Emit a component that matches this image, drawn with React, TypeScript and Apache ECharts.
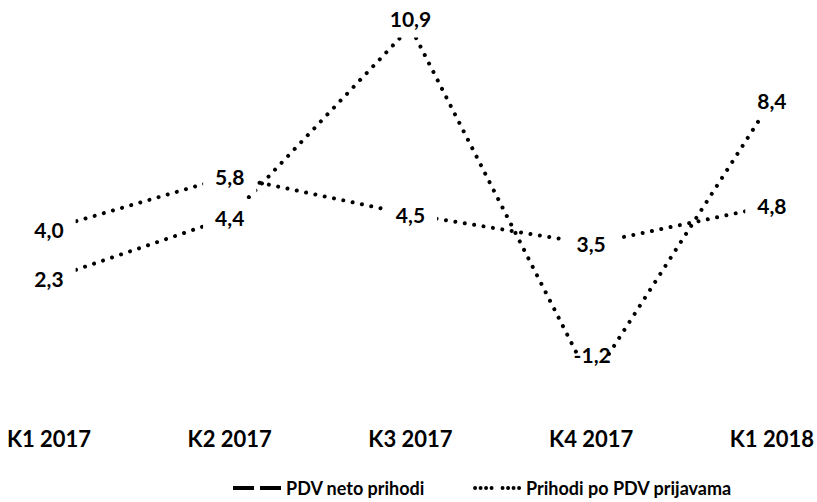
import React, { useEffect, useRef } from 'react';
import * as echarts from 'echarts';

const categories = ['K1 2017', 'K2 2017', 'K3 2017', 'K4 2017', 'K1 2018'];
const seriesNames = ['PDV neto prihodi', 'Prihodi po PDV prijavama'];
const pdvNetoPrihodi = [2.3, 4.4, 10.9, -1.2, 8.4];
const prihodiPoPrijavama = [4.0, 5.8, 4.5, 3.5, 4.8];

const FONT = 'Lato';

const fmt = (p: any) => {
  const v = Array.isArray(p.value) ? p.value[1] : p.value;
  return Number(v).toFixed(1).replace('.', ',');
};

const dotPath = (x: number) => `M${x},2a2,2 0 1,0 4,0a2,2 0 1,0 -4,0Z`;
const dottedIcon =
  'path://' + [0, 5.5, 11, 16.5, 27.5, 33, 38.5, 44].map(dotPath).join(' ');
const dashedIcon = 'path://M0,0H21V4H0Z M27,0H48V4H27Z';

export default function App() {
  const ref = useRef<HTMLDivElement>(null);
  useEffect(() => {
    document.body.style.margin = '0';
    if (!ref.current) return;
    const chart = echarts.init(ref.current, undefined, { renderer: 'svg' });

    const baseLabel = {
      show: true,
      position: 'inside',
      formatter: fmt,
      color: '#000',
      fontFamily: FONT,
      fontWeight: 'bold',
      fontSize: 21,
      backgroundColor: '#fff',
      padding: [8, 12],
    };
    const lineStyle = { color: '#000', width: 4, type: [0.01, 9.5], cap: 'round' };

    const dataNeto = pdvNetoPrihodi.map((v, i) => {
      if (i === 3) {
        return {
          value: v,
          symbolSize: 60,
          itemStyle: { color: '#fff' },
          label: { backgroundColor: 'transparent', padding: 0, offset: [1, -27] },
        };
      }
      if (i === 2) {
        return { value: v, label: { offset: [0, -8] } };
      }
      return v;
    });

    chart.setOption({
      animation: false,
      backgroundColor: '#fff',
      grid: { left: 49, right: 44, top: 24, bottom: 97 },
      xAxis: {
        type: 'category',
        data: categories,
        boundaryGap: false,
        axisLine: { show: false, onZero: false },
        axisTick: { show: false },
        splitLine: { show: false },
        axisLabel: {
          color: '#000',
          fontFamily: FONT,
          fontWeight: 'bold',
          fontSize: 22,
          margin: 22,
        },
      },
      yAxis: { type: 'value', min: -2, max: 11, show: false },
      legend: {
        left: 228,
        top: 474,
        itemGap: 48,
        itemWidth: 48,
        itemHeight: 4,
        itemStyle: { color: '#000', borderWidth: 0 },
        textStyle: {
          color: '#000',
          fontFamily: FONT,
          fontWeight: 'bold',
          fontSize: 18,
          lineHeight: 18,
        },
        data: [
          { name: seriesNames[0], icon: dashedIcon },
          { name: seriesNames[1], icon: dottedIcon },
        ],
      },
      series: [
        {
          name: seriesNames[0],
          type: 'line',
          data: dataNeto,
          symbol: 'circle',
          symbolSize: 2,
          itemStyle: { color: '#fff' },
          lineStyle,
          label: baseLabel,
          emphasis: { disabled: true },
        },
        {
          name: seriesNames[1],
          type: 'line',
          data: prihodiPoPrijavama,
          symbol: 'circle',
          symbolSize: 2,
          itemStyle: { color: '#fff' },
          lineStyle,
          label: baseLabel,
          emphasis: { disabled: true },
        },
      ],
    });
    return () => chart.dispose();
  }, []);
  return <div ref={ref} style={{ width: 817, height: 502 }} />;
}
